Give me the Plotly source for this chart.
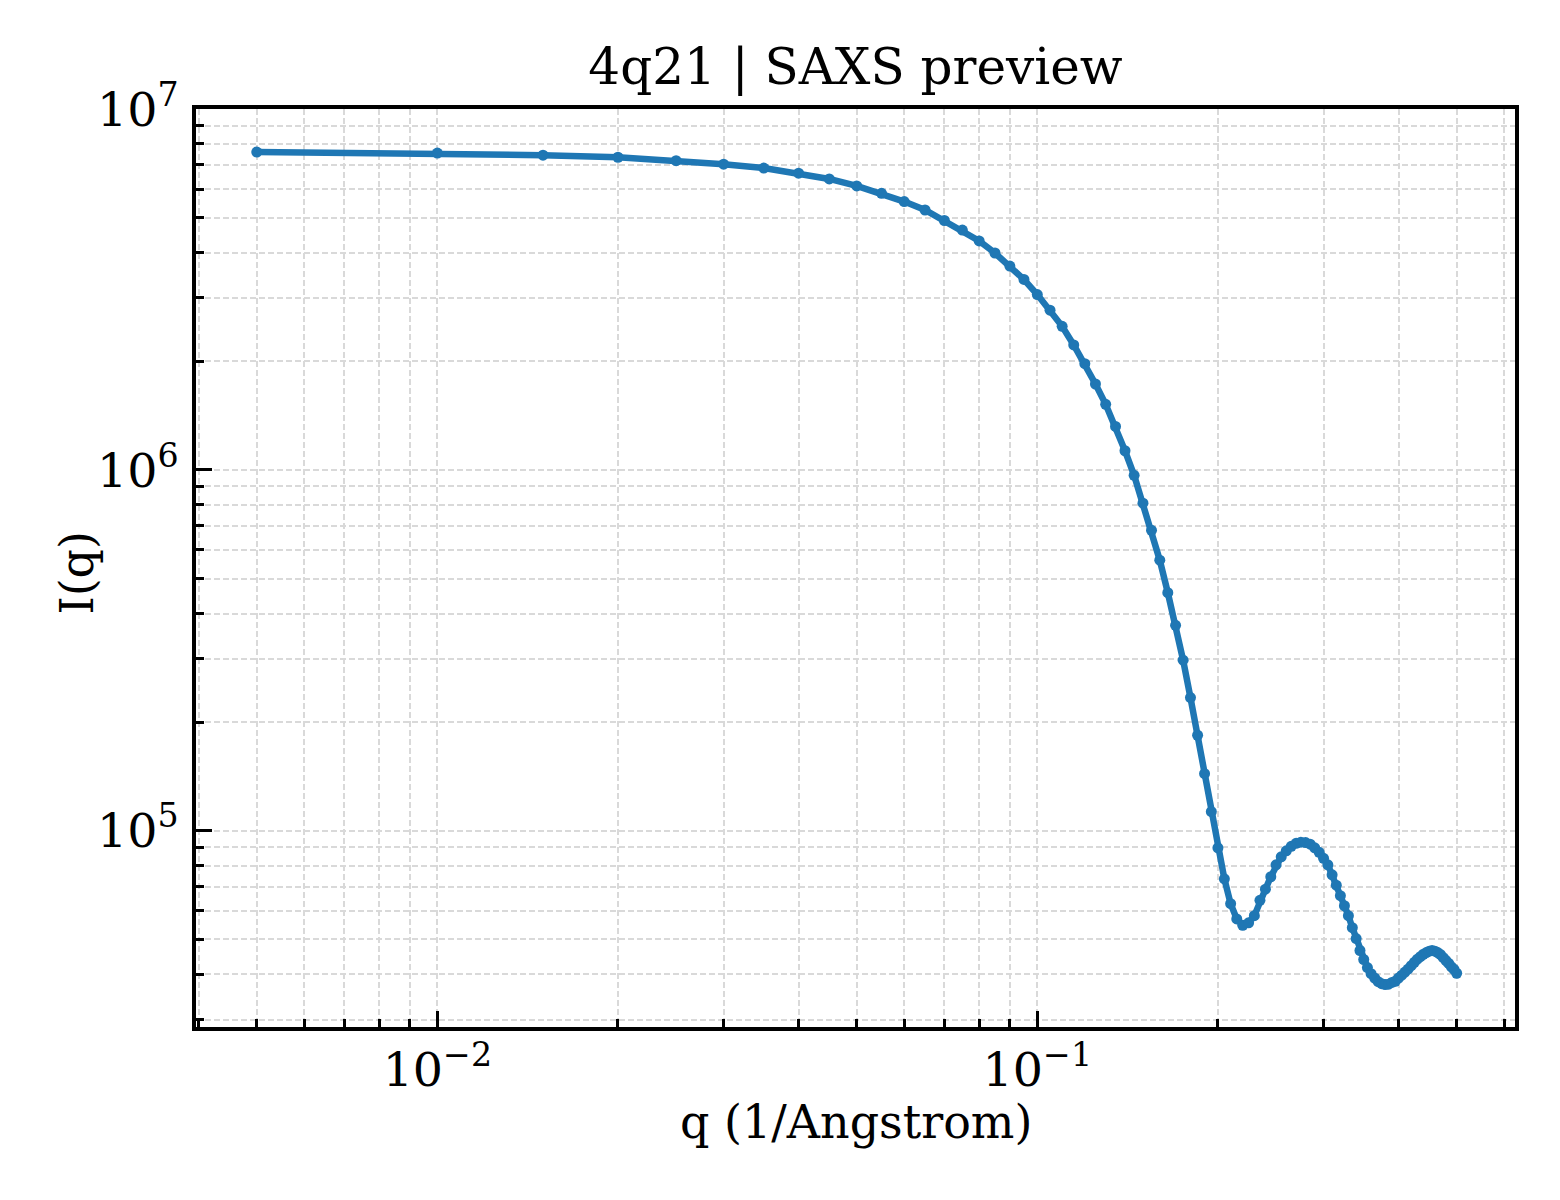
"""
SAXS preview plot for 4q21 (log-log I(q) vs q)
"""

import plotly.graph_objects as go

# ===== DATA =====
q_values = [
    0.005, 0.010, 0.015, 0.020, 0.025, 0.030, 0.035, 0.040, 0.045, 0.050,
    0.055, 0.060, 0.065, 0.070, 0.075, 0.080, 0.085, 0.090, 0.095, 0.100,
    0.105, 0.110, 0.115, 0.120, 0.125, 0.130, 0.135, 0.140, 0.145, 0.150,
    0.155, 0.160, 0.165, 0.170, 0.175, 0.180, 0.185, 0.190, 0.195, 0.200,
    0.205, 0.210, 0.215, 0.220, 0.225, 0.230, 0.235, 0.240, 0.245, 0.250,
    0.255, 0.260, 0.265, 0.270, 0.275, 0.280, 0.285, 0.290, 0.295, 0.300,
    0.305, 0.310, 0.315, 0.320, 0.325, 0.330, 0.335, 0.340, 0.345, 0.350,
    0.355, 0.360, 0.365, 0.370, 0.375, 0.380, 0.385, 0.390, 0.395, 0.400,
    0.405, 0.410, 0.415, 0.420, 0.425, 0.430, 0.435, 0.440, 0.445, 0.450,
    0.455, 0.460, 0.465, 0.470, 0.475, 0.480, 0.485, 0.490, 0.495, 0.500,
]

intensity = [
    7.60e6, 7.55e6, 7.45e6, 7.35e6, 7.19e6, 7.03e6, 6.86e6, 6.64e6, 6.40e6, 6.12e6,
    5.84e6, 5.54e6, 5.25e6, 4.91e6, 4.62e6, 4.31e6, 3.99e6, 3.67e6, 3.37e6, 3.06e6,
    2.77e6, 2.50e6, 2.22e6, 1.97e6, 1.73e6, 1.52e6, 1.32e6, 1.13e6, 9.66e5, 8.09e5,
    6.80e5, 5.62e5, 4.57e5, 3.71e5, 2.97e5, 2.34e5, 1.84e5, 1.44e5, 1.13e5, 8.97e4,
    7.36e4, 6.28e4, 5.70e4, 5.47e4, 5.56e4, 5.82e4, 6.42e4, 6.89e4, 7.46e4, 8.05e4,
    8.47e4, 8.80e4, 9.06e4, 9.23e4, 9.30e4, 9.28e4, 9.18e4, 8.97e4, 8.72e4, 8.39e4,
    8.05e4, 7.55e4, 7.07e4, 6.61e4, 6.20e4, 5.82e4, 5.39e4, 5.03e4, 4.66e4, 4.40e4,
    4.18e4, 4.02e4, 3.91e4, 3.82e4, 3.77e4, 3.75e4, 3.76e4, 3.80e4, 3.83e4, 3.91e4,
    3.98e4, 4.06e4, 4.14e4, 4.23e4, 4.32e4, 4.41e4, 4.48e4, 4.55e4, 4.60e4, 4.64e4,
    4.66e4, 4.64e4, 4.60e4, 4.54e4, 4.45e4, 4.37e4, 4.29e4, 4.20e4, 4.13e4, 4.03e4,
]

assert len(q_values) == len(intensity)

# ===== STYLE =====
FONT = "DejaVu Serif"
BLUE = "#1f77b4"
GRID = "#d9d9d9"

# plot box in page pixels (the page adds an 8px body margin)
L, R, T, B = 188, 53, 101, 181
PLOT_W = 1560 - L - R
PLOT_H = 1200 - T - B

fig = go.Figure()

fig.add_trace(
    go.Scatter(
        x=q_values,
        y=intensity,
        mode="lines+markers",
        line=dict(color=BLUE, width=6.5),
        marker=dict(color=BLUE, size=11),
        showlegend=False,
    )
)

axis_common = dict(
    type="log",
    dtick=1,
    exponentformat="power",
    showline=True,
    linecolor="black",
    linewidth=3.5,
    mirror=True,
    ticks="inside",
    ticklen=16,
    tickwidth=3,
    tickcolor="black",
    tickfont=dict(family=FONT, size=38, color="black"),
    showgrid=True,
    gridcolor=GRID,
    gridwidth=1.5,
    griddash="6px,3px",
    zeroline=False,
    minor=dict(
        dtick="D1",
        ticks="inside",
        ticklen=8,
        tickwidth=2.5,
        tickcolor="black",
        showgrid=True,
        gridcolor=GRID,
        gridwidth=1.5,
        griddash="6px,3px",
    ),
)

fig.update_xaxes(**axis_common, range=[-2.4023, -0.2038], ticklabelstandoff=0)
fig.update_yaxes(**axis_common, range=[4.4564, 7.0], ticklabelstandoff=6)

# axis titles as annotations for exact placement
label_font = dict(family=FONT, size=46, color="black")
fig.add_annotation(
    text="q (1/Angstrom)",
    xref="paper", yref="paper",
    x=0.5, y=-(1122 - 1027) / PLOT_H,
    xanchor="center", yanchor="middle",
    showarrow=False, font=label_font,
)
fig.add_annotation(
    text="I(q)",
    xref="paper", yref="paper",
    x=(75 - 195) / PLOT_W, y=0.5 - (572 - 567.5) / PLOT_H,
    xanchor="center", yanchor="middle",
    textangle=-90,
    showarrow=False, font=label_font,
)

fig.update_layout(
    width=1560,
    height=1200,
    margin=dict(l=L, r=R, t=T, b=B),
    paper_bgcolor="white",
    plot_bgcolor="white",
    title=dict(
        text="4q21 | SAXS preview",
        font=dict(family=FONT, size=50, color="black"),
        x=(L + PLOT_W / 2) / 1560,
        xanchor="center",
        y=1 - 58 / 1200,
        yanchor="middle",
        yref="container",
    ),
)

fig.write_html("out.html")
